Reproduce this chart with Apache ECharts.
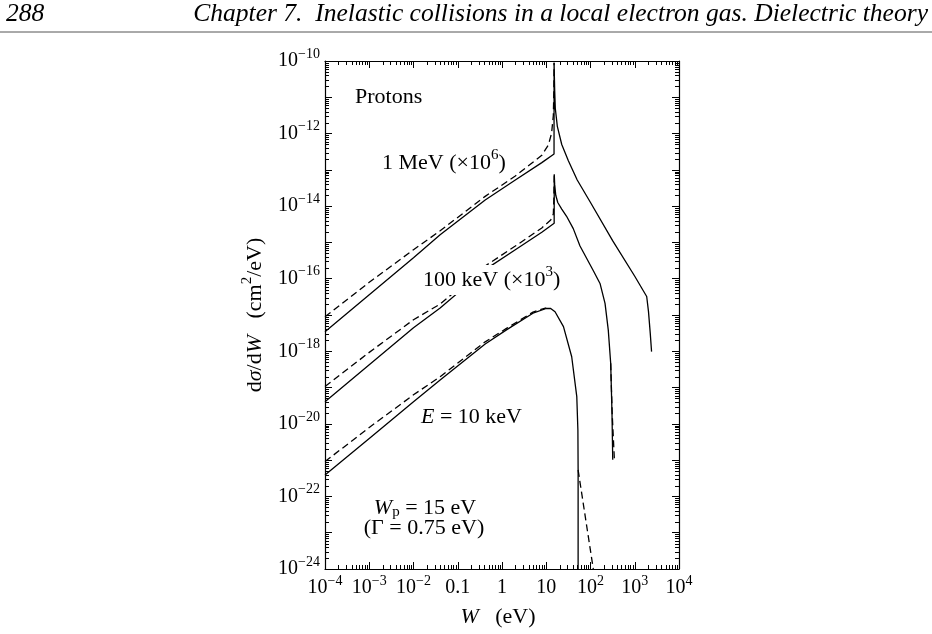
<!DOCTYPE html>
<html><head><meta charset="utf-8">
<script src="https://cdn.jsdelivr.net/npm/echarts@6/dist/echarts.min.js"></script>
<style>html,body{margin:0;padding:0;background:#fff}#c{width:932px;height:634px}</style>
</head><body><div id="c"></div>
<script>
// ---- tick labels ----
const xTickLabels = {'-4':'{b|10}{s|−4}','-3':'{b|10}{s|−3}','-2':'{b|10}{s|−2}','-1':'{b|0.1}','0':'{b|1}','1':'{b|10}','2':'{b|10}{s|2}','3':'{b|10}{s|3}','4':'{b|10}{s|4}'};
const yTickLabels = {'-10':'{b|10}{s|−10}','-12':'{b|10}{s|−12}','-14':'{b|10}{s|−14}','-16':'{b|10}{s|−16}','-18':'{b|10}{s|−18}','-20':'{b|10}{s|−20}','-22':'{b|10}{s|−22}','-24':'{b|10}{s|−24}'};

// ---- 1 MeV (x1e6) : [W (eV), dsigma/dW (cm^2/eV)] ----
const mev1Solid = [[1e-4,3.47e-18],[1e-3,3.63e-17],[1e-2,3.80e-16],[0.04,1.62e-15],[0.417,1.48e-14],[2,5.25e-14],[7.94,1.58e-13],[15,2.75e-13],
  [15.03,8.9e-11],[15.5,1.58e-11],[16.0,5.0e-12],[17.8,1.58e-12],[22.4,5.0e-13],[31.6,1.78e-13],[50.1,5.25e-14],[100,1.26e-14],[316,1.12e-15],[1000,1.17e-16],[1862,3.24e-17],[2042,1.26e-17],[2239,3.16e-18],[2399,9.77e-19]];
const mev1Dashed = [[1e-4,8.91e-18],[1e-3,7.94e-17],[1e-2,6.31e-16],[0.04,2.09e-15],[0.417,1.86e-14],[2,6.76e-14],[7.94,2.51e-13],[11.2,4.9e-13],[13.2,1.02e-12],[14.45,3.16e-12],[14.86,1.58e-11],[15.03,8.9e-11]];
// ---- 100 keV (x1e3) ----
const kev100Solid = [[1e-4,4.07e-20],[1e-3,4.27e-19],[1e-2,4.47e-18],[0.04,1.55e-17],[0.417,1.78e-16],[2,6.31e-16],[7.94,1.91e-15],[15.1,3.39e-15],
  [15.17,7.59e-14],[15.5,3.98e-14],[16.4,2.0e-14],[18.2,1.26e-14],[22.4,8.32e-15],[28.8,5.25e-15],[40.8,2.4e-15],[57.9,7.94e-16],[116,1.66e-16],[164,7.41e-17],[213,2.09e-17],[252,3.89e-18],[286,4.68e-19],[306,1.95e-20],[318,1.02e-21]];
const kev100Dashed = [[1e-4,1.07e-19],[1e-3,9.33e-19],[1e-2,7.41e-18],[0.04,2.0e-17],[0.417,2.24e-16],[2,7.94e-16],[7.94,2.51e-15],[12.6,4.17e-15],[14.45,6.03e-15],[14.86,1.58e-14],[15.17,7.59e-14]];
const kev100DashedTail = [[286,4.68e-19],[309,1.95e-20],[347,1.0e-21]];
// ---- E = 10 keV ----
const kev10Solid = [[1e-4,3.89e-22],[1e-3,3.98e-21],[1e-2,4.07e-20],[0.04,1.62e-19],[0.417,1.58e-18],[1.26,3.89e-18],[5.01,1.12e-17],[10,1.51e-17],[12.6,1.51e-17],[15.8,1.23e-17],[24.5,4.79e-18],[37.6,7.08e-19],[49,5.62e-20],[51.9,6.76e-21],[52.5,5.37e-22],[52.5,1e-24]];
const kev10Dashed = [[1e-4,9.12e-22],[1e-3,7.94e-21],[1e-2,6.31e-20],[0.04,2.0e-19],[0.417,1.82e-18],[1.26,4.27e-18],[5.01,1.2e-17],[10,1.58e-17]];
const kev10DashedTail = [[52.5,5.37e-22],[115.6,1e-24]];

// y axis is drawn in decades (log10 of the cross section); values converted here
const toDecades = arr => arr.map(p => [p[0], Math.log10(p[1])]);

// minor tick positions (axis decoration)
const minorTicks = [];
for (let n = -4; n < 4; n++) for (let k = 2; k <= 9; k++) minorTicks.push([k * Math.pow(10, n), -17, 0]);
for (let n = -24; n < -10; n++) for (let k = 2; k <= 9; k++) minorTicks.push([1, n + Math.log10(k), 1]);

const SERIF = '"Liberation Serif", "DejaVu Serif", serif';
const FS = 22;
const richLbl = {
  b: {fontFamily: SERIF, fontSize: 20, color: '#000', lineHeight: 28},
  s: {fontFamily: SERIF, fontSize: 14, color: '#000', lineHeight: 14, verticalAlign: 'top'}
};
const richTxt = {
  b: {fontFamily: SERIF, fontSize: FS, color: '#000', lineHeight: 30},
  i: {fontFamily: SERIF, fontStyle: 'italic', fontSize: FS, color: '#000', lineHeight: 30},
  s: {fontFamily: SERIF, fontSize: 15, color: '#000', lineHeight: 15, verticalAlign: 'top'}
};
const richWp = {
  b: {fontFamily: SERIF, fontSize: FS, color: '#000', lineHeight: 24},
  i: {fontFamily: SERIF, fontStyle: 'italic', fontSize: FS, color: '#000', lineHeight: 24},
  sub: {fontFamily: SERIF, fontSize: 15, color: '#000', lineHeight: 10, verticalAlign: 'bottom'}
};

// header size fitted so that "Inelastic ... theory" spans the same width as in the page
const HEADER = 'Chapter 7.  Inelastic collisions in a local electron gas. Dielectric theory';
const ctx = document.createElement('canvas').getContext('2d');
ctx.font = 'italic 25px "Liberation Serif"';
const headerFS = Math.max(20, Math.min(30, 25 * 613 / ctx.measureText('Inelastic collisions in a local electron gas. Dielectric theory').width));

const chart = echarts.init(document.getElementById('c'));
const lineBase = {type: 'line', showSymbol: false, symbol: 'none', animation: false, xAxisIndex: 0, yAxisIndex: 0, z: 3, clip: true};
const solid = d => Object.assign({}, lineBase, {data: toDecades(d), lineStyle: {color: '#000', width: 1.3, type: 'solid'}});
const dashed = d => Object.assign({}, lineBase, {data: toDecades(d), lineStyle: {color: '#000', width: 1.3, type: [7, 4]}});
const tickStyle = () => ({show: true, inside: true, length: 7, lineStyle: {color: '#000', width: 1}});

chart.setOption({
  animation: false,
  backgroundColor: '#fff',
  grid: {left: 325, right: 253, top: 61, bottom: 65},
  xAxis: [
    {type: 'log', logBase: 10, min: 1e-4, max: 1e4, splitNumber: 8, position: 'bottom',
      axisLine: {show: true, lineStyle: {color: '#000', width: 1.2}},
      axisTick: tickStyle(), splitLine: {show: false},
      axisLabel: {margin: 5, rich: richLbl, formatter: v => xTickLabels[String(Math.round(Math.log10(v)))] || ''}},
    {type: 'log', logBase: 10, min: 1e-4, max: 1e4, splitNumber: 8, position: 'top',
      axisLine: {show: true, lineStyle: {color: '#000', width: 1.2}},
      axisTick: tickStyle(), splitLine: {show: false}, axisLabel: {show: false}}
  ],
  yAxis: [
    {type: 'value', min: -24, max: -10, interval: 1, position: 'left',
      axisLine: {show: true, lineStyle: {color: '#000', width: 1.2}},
      axisTick: tickStyle(), splitLine: {show: false},
      axisLabel: {margin: 5, rich: richLbl, formatter: v => yTickLabels[String(Math.round(v))] || ''}},
    {type: 'value', min: -24, max: -10, interval: 1, position: 'right',
      axisLine: {show: true, lineStyle: {color: '#000', width: 1.2}},
      axisTick: tickStyle(), splitLine: {show: false}, axisLabel: {show: false}}
  ],
  series: [
    solid(mev1Solid), dashed(mev1Dashed),
    solid(kev100Solid), dashed(kev100Dashed), dashed(kev100DashedTail),
    solid(kev10Solid), dashed(kev10Dashed), dashed(kev10DashedTail),
    {type: 'custom', xAxisIndex: 0, yAxisIndex: 0, data: minorTicks, dimensions: ['x', 'y', 't'], encode: {x: 0, y: 1},
      silent: true, z: 4, clip: false,
      renderItem: function (params, api) {
        const cs = params.coordSys;
        const t = api.value(2), L = 4;
        const st = {stroke: '#000', lineWidth: 1};
        if (t === 0) {
          const px = Math.round(api.coord([api.value(0), -17])[0]) + 0.5;
          return {type: 'group', children: [
            {type: 'line', shape: {x1: px, y1: cs.y + cs.height, x2: px, y2: cs.y + cs.height - L}, style: st},
            {type: 'line', shape: {x1: px, y1: cs.y, x2: px, y2: cs.y + L}, style: st}]};
        } else {
          const py = Math.round(api.coord([1, api.value(1)])[1]) + 0.5;
          return {type: 'group', children: [
            {type: 'line', shape: {x1: cs.x, y1: py, x2: cs.x + L, y2: py}, style: st},
            {type: 'line', shape: {x1: cs.x + cs.width, y1: py, x2: cs.x + cs.width - L, y2: py}, style: st}]};
        }
      }}
  ],
  graphic: [
    {type: 'text', x: 6, y: 14, style: {text: '288', font: 'italic ' + headerFS + 'px ' + SERIF, fill: '#000', textVerticalAlign: 'middle'}},
    {type: 'text', x: 928, y: 14, style: {text: HEADER, font: 'italic ' + headerFS + 'px ' + SERIF, fill: '#000', textAlign: 'right', textVerticalAlign: 'middle'}},
    {type: 'line', shape: {x1: 0, y1: 32, x2: 932, y2: 32}, style: {stroke: '#555', lineWidth: 1}},
    {type: 'text', x: 355, y: 97, z: 10, style: {text: '{b|Protons}', textVerticalAlign: 'middle', rich: richTxt}},
    {type: 'text', x: 382, y: 163, z: 10, style: {text: '{b|1 MeV (×10}{s|6}{b|)}', textVerticalAlign: 'middle', rich: richTxt}},
    {type: 'text', x: 421, y: 280, z: 10, style: {text: '{b|100 keV (×10}{s|3}{b|)}', textVerticalAlign: 'middle', rich: richTxt, backgroundColor: '#fff', padding: [0, 2, 0, 2]}},
    {type: 'text', x: 421, y: 417, z: 10, style: {text: '{i|E}{b| = 10 keV}', textVerticalAlign: 'middle', rich: richTxt}},
    {type: 'text', x: 425, y: 508, z: 10, style: {text: '{i|W}{sub|p}{b| = 15 eV}', textAlign: 'center', textVerticalAlign: 'middle', rich: richWp}},
    {type: 'text', x: 424, y: 528, z: 10, style: {text: '{b|(Γ = 0.75 eV)}', textAlign: 'center', textVerticalAlign: 'middle', rich: richTxt}},
    {type: 'text', x: 498, y: 617, z: 10, style: {text: '{i|W}{b|   (eV)}', textAlign: 'center', textVerticalAlign: 'middle', rich: richTxt}},
    {type: 'text', x: 255, y: 315, rotation: Math.PI / 2, z: 10, style: {text: '{b|d}{i|σ}{b|/d}{i|W}{b|   (cm}{s|2}{b|/eV)}', textAlign: 'center', textVerticalAlign: 'middle', rich: richTxt}}
  ]
});
</script>
</body></html>
